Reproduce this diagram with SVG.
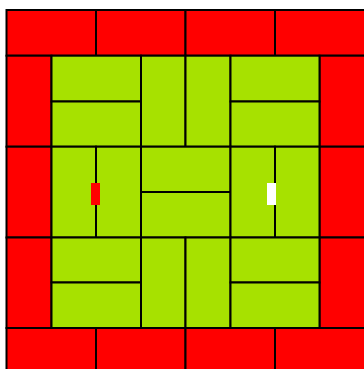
<svg xmlns="http://www.w3.org/2000/svg" width="364" height="369" viewBox="0 0 364 369">
<style>
.r{fill:#ff0000;stroke:#000;stroke-width:2}
.g{fill:#a7e100;stroke:#000;stroke-width:2}
</style>
<rect x="0" y="0" width="364" height="369" fill="#fff"/>
<g id="border">
<g id="t1"><rect class="r" x="6.5" y="10" width="89.5" height="45.7"/></g>
<g id="t2"><rect class="r" x="96" y="10" width="89.5" height="45.7"/></g>
<g id="t3"><rect class="r" x="185.5" y="10" width="89.5" height="45.7"/></g>
<g id="t4"><rect class="r" x="275" y="10" width="92" height="45.7"/></g>
<g id="b1"><rect class="r" x="6.5" y="328" width="89.5" height="44"/></g>
<g id="b2"><rect class="r" x="96" y="328" width="89.5" height="44"/></g>
<g id="b3"><rect class="r" x="185.5" y="328" width="89.5" height="44"/></g>
<g id="b4"><rect class="r" x="275" y="328" width="92" height="44"/></g>
<g id="l1"><rect class="r" x="6.5" y="55.7" width="45" height="91"/></g>
<g id="l2"><rect class="r" x="6.5" y="146.7" width="45" height="90.8"/></g>
<g id="l3"><rect class="r" x="6.5" y="237.5" width="45" height="90.5"/></g>
<g id="r1"><rect class="r" x="319.5" y="55.7" width="47" height="91"/></g>
<g id="r2"><rect class="r" x="319.5" y="146.7" width="47" height="90.8"/></g>
<g id="r3"><rect class="r" x="319.5" y="237.5" width="47" height="90.5"/></g>
</g>
<g id="field">
<g id="a1"><rect class="g" x="51.5" y="55.7" width="89.5" height="45.8"/><rect class="g" x="51.5" y="101.5" width="89.5" height="45.2"/></g>
<g id="a2"><rect class="g" x="141" y="55.7" width="44.5" height="91"/><rect class="g" x="185.5" y="55.7" width="45" height="91"/></g>
<g id="a3"><rect class="g" x="230.5" y="55.7" width="89" height="45.8"/><rect class="g" x="230.5" y="101.5" width="89" height="45.2"/></g>
<g id="b1g"><rect class="g" x="51.5" y="146.7" width="44.5" height="90.8"/><rect class="g" x="96" y="146.7" width="45" height="90.8"/></g>
<g id="b2g"><rect class="g" x="141" y="146.7" width="89.5" height="45.3"/><rect class="g" x="141" y="192" width="89.5" height="45.5"/></g>
<g id="b3g"><rect class="g" x="230.5" y="146.7" width="44.5" height="90.8"/><rect class="g" x="275" y="146.7" width="44.5" height="90.8"/></g>
<g id="c1"><rect class="g" x="51.5" y="237.5" width="89.5" height="45"/><rect class="g" x="51.5" y="282.5" width="89.5" height="45.5"/></g>
<g id="c2"><rect class="g" x="141" y="237.5" width="44.5" height="90.5"/><rect class="g" x="185.5" y="237.5" width="45" height="90.5"/></g>
<g id="c3"><rect class="g" x="230.5" y="237.5" width="89" height="45"/><rect class="g" x="230.5" y="282.5" width="89" height="45.5"/></g>
</g>
<g id="markers">
<rect id="red-marker" x="91" y="183" width="9" height="22" fill="#ff0000"/>
<rect id="white-marker" x="267" y="183" width="9" height="22" fill="#ffffff"/>
</g>
</svg>
